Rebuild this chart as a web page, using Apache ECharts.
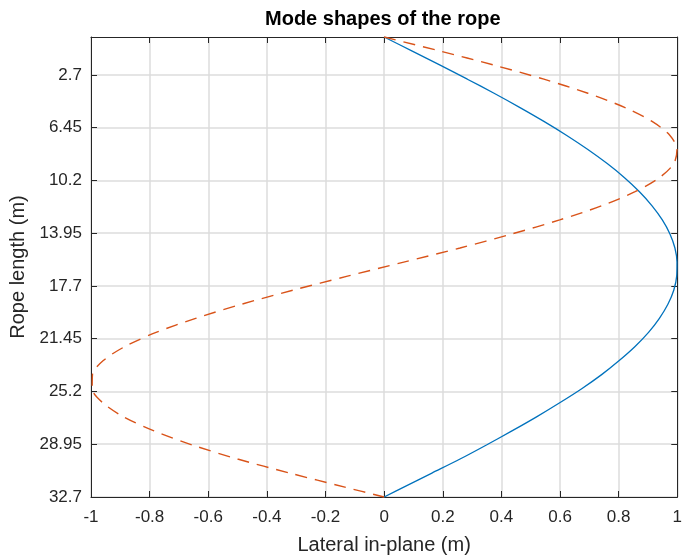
<!DOCTYPE html>
<html>
<head>
<meta charset="utf-8">
<script src="https://cdn.jsdelivr.net/npm/echarts@6/dist/echarts.min.js"></script>
<style>
  html, body { margin: 0; padding: 0; background: #fff; }
  #root { width: 685px; height: 560px; }
</style>
</head>
<body>
<div id="root"></div>
<script>
// positions along the rope (m)
const ropeLength = [0, 1, 2, 3, 4, 5, 6, 7, 8, 9, 10, 11, 12, 13, 14, 15, 16,
  17, 18, 19, 20, 21, 22, 23, 24, 25, 26, 27, 28, 29, 30, 31, 32, 32.7]

// first mode (solid blue)
const mode1 = [0, 0.096, 0.191, 0.284, 0.375, 0.462, 0.545, 0.623, 0.695, 0.761,
  0.820, 0.871, 0.914, 0.949, 0.975, 0.992, 0.999, 0.998, 0.988, 0.968, 0.939,
  0.902, 0.856, 0.802, 0.742, 0.674, 0.599, 0.520, 0.436, 0.349, 0.259, 0.163,
  0.067, 0]

// second mode (dashed orange)
const mode2 = [0, 0.191, 0.375, 0.545, 0.695, 0.820, 0.914, 0.975, 0.999, 0.988,
  0.939, 0.856, 0.742, 0.599, 0.436, 0.259, 0.067, -0.125, -0.311, -0.487, -0.643,
  -0.778, -0.884, -0.958, -0.995, -0.996, -0.960, -0.889, -0.785, -0.655, -0.500,
  -0.322, -0.134, 0]

const yTicks = [2.7, 6.45, 10.2, 13.95, 17.7, 21.45, 25.2, 28.95, 32.7]
const yTickLabels = ['2.7', '6.45', '10.2', '13.95', '17.7', '21.45', '25.2', '28.95', '32.7']

const font = "'Liberation Sans', Arial, Helvetica, sans-serif"
const ink = '#262626'
const gridColor = '#dcdcdc'

const toPairs = (xs) => xs.map((x, i) => [x, ropeLength[i]])

const chart = echarts.init(document.getElementById('root'))

const boxLine = { show: true, onZero: false, lineStyle: { color: ink, width: 1 } }
const tick = { show: true, inside: true, length: 6, lineStyle: { color: ink, width: 1 } }

const option = {
  animation: false,
  textStyle: { fontFamily: font },
  title: {
    text: 'Mode shapes of the rope',
    left: 265,
    top: 9,
    padding: 0,
    textStyle: { fontFamily: font, fontSize: 20, fontWeight: 'bold', color: '#000' }
  },
  grid: { left: 91, right: 7, top: 37, bottom: 61 },
  xAxis: [
    {
      type: 'value',
      min: -1,
      max: 1,
      interval: 0.2,
      position: 'bottom',
      name: 'Lateral in-plane (m)',
      nameLocation: 'middle',
      nameGap: 38,
      nameTextStyle: { fontFamily: font, fontSize: 20, color: ink },
      axisLine: boxLine,
      axisTick: tick,
      axisLabel: { fontFamily: font, fontSize: 17, color: ink, margin: 12 },
      splitLine: { show: true, lineStyle: { color: gridColor, width: 1.5 } }
    },
    {
      type: 'value',
      min: -1,
      max: 1,
      interval: 0.2,
      position: 'top',
      axisLine: boxLine,
      axisTick: tick,
      axisLabel: { show: false },
      splitLine: { show: false }
    }
  ],
  yAxis: [
    {
      type: 'value',
      inverse: true,
      min: 0,
      max: 32.7,
      position: 'left',
      name: 'Rope length (m)',
      nameLocation: 'middle',
      nameRotate: 90,
      nameGap: 57,
      nameTextStyle: { fontFamily: font, fontSize: 20, color: ink },
      axisLine: boxLine,
      axisTick: Object.assign({}, tick, { customValues: yTicks }),
      axisLabel: {
        customValues: yTicks,
        fontFamily: font,
        fontSize: 17,
        color: ink,
        margin: 9,
        formatter: (v) => yTickLabels[yTicks.indexOf(v)] || ''
      },
      splitLine: { show: true, lineStyle: { color: gridColor, width: 1.5 } }
    },
    {
      type: 'value',
      inverse: true,
      min: 0,
      max: 32.7,
      position: 'right',
      axisLine: boxLine,
      axisTick: Object.assign({}, tick, { customValues: yTicks }),
      axisLabel: { show: false },
      splitLine: { show: false }
    }
  ],
  series: [
    {
      name: 'Mode 1',
      type: 'line',
      data: toPairs(mode1),
      showSymbol: false,
      smooth: 0.3,
      clip: false,
      lineStyle: { color: '#0072BD', width: 1.3 }
    },
    {
      name: 'Mode 2',
      type: 'line',
      data: toPairs(mode2),
      showSymbol: false,
      smooth: 0.3,
      clip: false,
      lineStyle: { color: '#D95319', width: 1.4, type: [12, 8] }
    }
  ]
}

chart.setOption(option)
</script>
</body>
</html>
